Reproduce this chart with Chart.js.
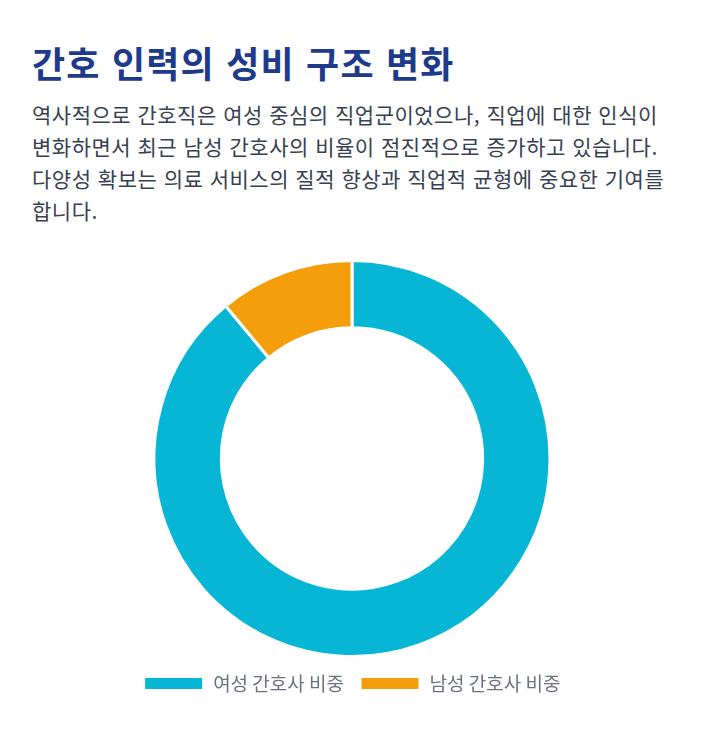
<!DOCTYPE html>
<html lang="ko">
<head>
<meta charset="UTF-8">
<title>간호 인력의 성비 구조 변화</title>
<script src="https://cdn.jsdelivr.net/npm/chart.js@4.4.1/dist/chart.umd.min.js"></script>
<style>
    html, body {
        margin: 0;
        padding: 0;
        background: #ffffff;
        width: 703px;
        height: 739px;
        overflow: hidden;
        font-family: "Noto Sans CJK KR", "Noto Sans", sans-serif;
    }
    .title {
        position: absolute;
        left: 32px;
        top: 38px;
        margin: 0;
        font-size: 36px;
        font-weight: 700;
        letter-spacing: 1.2px;
        color: #1e3a8a;
        white-space: nowrap;
        line-height: 48px;
    }
    .desc {
        position: absolute;
        left: 32px;
        top: 98px;
        margin: 0;
        font-size: 21px;
        letter-spacing: 0.5px;
        color: #374151;
        line-height: 32px;
        white-space: nowrap;
    }
    .chart-box {
        position: absolute;
        left: 32px;
        top: 251px;
        width: 640px;
        height: 452px;
    }
</style>
</head>
<body>
<h1 class="title">간호 인력의 성비 구조 변화</h1>
<p class="desc">역사적으로 간호직은 여성 중심의 직업군이었으나, 직업에 대한 인식이<br>변화하면서 최근 남성 간호사의 비율이 점진적으로 증가하고 있습니다.<br>다양성 확보는 의료 서비스의 질적 향상과 직업적 균형에 중요한 기여를<br>합니다.</p>
<div class="chart-box">
    <canvas id="genderChart"></canvas>
</div>

<script>
// 성별 비중 (%)
const labels = ["여성 간호사 비중", "남성 간호사 비중"];
const shares = [89, 11];
const colors = ["#06b6d4", "#f59e0b"];

document.addEventListener("DOMContentLoaded", function() {
    const ctx = document.getElementById("genderChart").getContext("2d");
    new Chart(ctx, {
        type: "doughnut",
        data: {
            labels: labels,
            datasets: [{
                data: shares,
                backgroundColor: colors,
                borderColor: "#ffffff",
                borderWidth: 3
            }]
        },
        options: {
            responsive: true,
            maintainAspectRatio: false,
            animation: false,
            cutout: "66%",
            layout: {
                padding: { top: 8 }
            },
            plugins: {
                legend: {
                    position: "bottom",
                    labels: {
                        boxWidth: 60,
                        boxHeight: 14,
                        padding: 16,
                        color: "#6b7280",
                        font: { family: "'Noto Sans CJK KR', sans-serif", size: 19 }
                    }
                },
                tooltip: { enabled: true }
            }
        }
    });
});
</script>
</body>
</html>
